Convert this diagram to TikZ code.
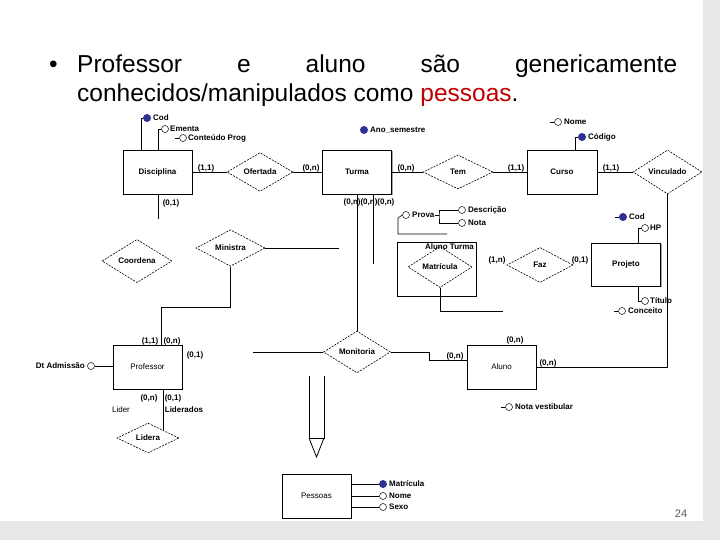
\documentclass[tikz,border=0pt]{standalone}
\usepackage{fontspec}
\setmainfont{Liberation Sans}
\usetikzlibrary{shapes.geometric,shadows}
\definecolor{attblue}{HTML}{2E3192}
\definecolor{slidered}{HTML}{C00000}
\definecolor{pagegray}{HTML}{595959}
\newcommand\erfont{\fontsize{8}{9}\selectfont\bfseries}
\newcommand\erfontr{\fontsize{8}{9}\selectfont}
\newcommand\cardfont{\fontsize{8}{9}\selectfont\bfseries}
\newcommand\slidefont{\fontsize{24.5}{29}\selectfont}
\begin{document}
\begin{tikzpicture}[x=1pt,y=-1pt,
  ent/.style={draw, line width=0.8pt, fill=white, minimum width=69pt, minimum height=44pt,
    inner sep=0pt, font=\erfont,
    drop shadow={shadow xshift=1.3pt, shadow yshift=-1.3pt, fill=black!50, opacity=0.7}},
  rel/.style={diamond, draw, dash pattern=on 2pt off 1.2pt, line width=0.6pt,
    inner sep=0pt, font=\erfont, fill=white},
  card/.style={font=\cardfont, inner sep=0pt},
  lab/.style={font=\erfont, inner sep=0pt, anchor=west},
  attf/.style={circle, fill=attblue, minimum size=8pt, inner sep=0pt},
  atto/.style={circle, draw, line width=0.5pt, minimum size=7pt, inner sep=0pt, fill=white},
  conn/.style={line width=0.8pt},
  thin/.style={line width=0.6pt}]
\useasboundingbox (0,0) rectangle (720,540);
\fill[gray!18] (0,0) rectangle (720,540);
\fill[white] (0,0) rectangle (703,521);

% slide text
\node[anchor=base west, inner sep=0pt, font=\slidefont] (bul) at (49,73) {•};
\node[anchor=base west, inner sep=0pt, font=\slidefont] (l1) at (77,73)
  {\makebox[600pt]{Professor\hfill e\hfill aluno\hfill são\hfill genericamente}};
\node[anchor=base west, inner sep=0pt, font=\slidefont] (l2) at (77,102)
  {conhecidos/manipulados como \textcolor{slidered}{pessoas}.};

% associative box first (behind)
\node[ent, minimum width=79pt, minimum height=54pt] (at) at (436.5,269) {};

% entities
\node[ent] (disc) at (157.5,172) {Disciplina};
\node[ent] (turma) at (357,172) {Turma};
\node[ent, minimum width=70pt] (curso) at (562,172) {Curso};
\node[ent, minimum height=43pt] (proj) at (626,264.5) {Projeto};
\node[ent, font=\erfontr] (prof) at (147.5,367) {Professor};
\node[ent, font=\erfontr] (aluno) at (501.5,367) {Aluno};
\node[ent, font=\erfontr] (pess) at (316.5,496) {Pessoas};

% relationships
\node[rel, minimum width=66pt, minimum height=36pt] (ofer) at (260,172) {Ofertada};
\node[rel, minimum width=70pt, minimum height=34pt] (tem) at (458,172) {Tem};
\node[rel, minimum width=69pt, minimum height=34pt] (vinc) at (667.5,172) {Vinculado};
\node[rel, minimum width=70pt, minimum height=33pt] (coord) at (137,261) {Coordena};
\node[rel, minimum width=69pt, minimum height=34pt] (mini) at (230.5,248) {Ministra};
\node[rel, fill=none, minimum width=64pt, minimum height=28pt] (matr) at (440,267) {Matrícula};
\node[rel, minimum width=66pt, minimum height=35pt] (faz) at (540,265) {Faz};
\node[rel, minimum width=62pt, minimum height=29pt] (lid) at (148,438) {Lidera};
\node[rel, minimum width=67pt, minimum height=33pt] (moni) at (357,352) {Monitoria};
\node[lab, anchor=east] (atl) at (474,247) {Aluno Turma};

% connectors
\draw[conn] (disc.east) -- (ofer.west);
\draw[conn] (ofer.east) -- (turma.west);
\draw[conn] (turma.east) -- (tem.west);
\draw[conn] (tem.east) -- (curso.west);
\draw[conn] (curso.east) -- (vinc.west);
\draw[conn] (vinc.south) |- (aluno.east);
\coordinate (dEnd) at (158,219);
\draw[conn] (disc.south -| dEnd) -- (dEnd);
\draw[conn] (turma.south) -- (moni.north);
\coordinate (tEnd) at (373,264);
\draw[conn] (turma.south -| tEnd) -- (tEnd);
\coordinate (mEnd) at (339,248);
\draw[conn] (mini.east) -- (mEnd);
\coordinate (mp) at (161,307);
\draw[conn] (mini.south) |- (mp) -- (mp |- prof.north);
\coordinate (pmEnd) at (253,352);
\draw[conn] (pmEnd) -- (moni.west);
\coordinate (ma) at (429,360);
\draw[conn] (moni.east) -| (ma) -- (ma -| aluno.west);
\draw[conn] (prof.south -| lid.north east) -- (lid.north east);
\coordinate (mtEnd) at (503,311);
\draw[conn] (matr.south) |- (mtEnd);

% Prova
\node[atto] (provac) at (406,215) {};
\node[lab] (prova) at (412,215) {Prova};
\coordinate (pv) at (447,234);
\coordinate (pvc) at (398,218);
\draw[thin] (pv) -| (pvc) -- (provac.west);
\coordinate (pb) at (439,215);
\draw[thin] (prova.east) -- (pb);
\node[atto] (desc) at (462,210) {};
\node[lab] (descl) at (468,210) {Descrição};
\node[atto] (nota) at (462,223) {};
\node[lab] (notal) at (468,223) {Nota};
\draw[thin] (desc.west) -| (pb) |- (nota.west);

% Disciplina attributes
\node[attf] (dcod) at (147,118) {};
\node[lab] (dcodl) at (153,118) {Cod};
\coordinate (k1) at (141,150);
\draw[thin] (k1) |- (dcod.west);
\node[atto] (dem) at (165,129) {};
\node[lab] (deml) at (170,129) {Ementa};
\coordinate (k2) at (158,150);
\draw[thin] (k2) |- (dem.west);
\node[atto] (dcp) at (183,138) {};
\node[lab] (dcpl) at (188,138) {Conteúdo Prog};
\draw[thin] (dcp.west) -- ++(-4,0);

% Turma attribute
\node[attf] (ano) at (364,130) {};
\node[lab] (anol) at (370,130) {Ano\_semestre};

% Curso attributes
\node[atto] (cnome) at (558,122) {};
\draw[thin] (cnome.west) -- ++(-4,0);
\node[lab] (cnomel) at (564,122) {Nome};
\node[attf] (ccod) at (582,137) {};
\node[lab] (ccodl) at (588,137) {Código};
\coordinate (k3) at (575,150);
\draw[thin] (k3) |- (ccod.west);

% Projeto attributes
\node[attf] (pcod) at (623,217) {};
\draw[thin] (pcod.west) -- ++(-4,0);
\node[lab] (pcodl) at (629,217) {Cod};
\node[atto] (php) at (645,228) {};
\node[lab] (phpl) at (650,228) {HP};
\coordinate (k4) at (638,243);
\draw[thin] (k4) |- (php.west);
\node[atto] (ptit) at (645,301) {};
\node[lab] (ptitl) at (650,301) {Título};
\coordinate (k5) at (638,286);
\draw[thin] (k5) |- (ptit.west);
\node[atto] (pcon) at (622,311) {};
\draw[thin] (pcon.west) -- ++(-4,0);
\node[lab] (pconl) at (628,311) {Conceito};

% Professor attribute
\node[atto] (dtad) at (91,366) {};
\node[lab, anchor=east] (dtadl) at (85,366) {Dt Admissão};
\draw[thin] (dtad.east) -- (prof.west |- dtad);

% Aluno attribute
\node[atto] (nv) at (509,407) {};
\draw[thin] (nv.west) -- ++(-4,0);
\node[lab] (nvl) at (515,407) {Nota vestibular};

% Pessoas attributes
\node[attf] (pmat) at (383,484) {};
\node[lab] (pmatl) at (389,484) {Matrícula};
\node[atto] (pnom) at (383,496) {};
\node[lab] (pnoml) at (389,496) {Nome};
\node[atto] (psex) at (383,507) {};
\node[lab] (psexl) at (389,507) {Sexo};
\draw[thin] (pess.east |- pmat) -- (pmat.west);
\draw[thin] (pess.east |- pnom) -- (pnom.west);
\draw[thin] (pess.east |- psex) -- (psex.west);

% cardinalities
\node[card] (c1) at (206,168) {(1,1)};
\node[card] (c2) at (171,203) {(0,1)};
\node[card] (c3) at (311,168) {(0,n)};
\node[card] (c4) at (406,168) {(0,n)};
\node[card] (c5) at (516,168) {(1,1)};
\node[card] (c6) at (611,168) {(1,1)};
\node[card] (c7) at (369,202) {(0,n)(0,n)(0,n)};
\node[card] (c8) at (497,260) {(1,n)};
\node[card] (c9) at (580,260) {(0,1)};
\node[card] (c10) at (150,341) {(1,1)};
\node[card] (c11) at (172,341) {(0,n)};
\node[card] (c12) at (195,355) {(0,1)};
\node[card] (c13) at (149,398) {(0,n)};
\node[card] (c14) at (173,398) {(0,1)};
\node[lab, anchor=center, font=\erfontr] (lider) at (121,410) {Lider};
\node[lab, anchor=center] (lidos) at (184,410) {Liderados};
\node[card] (c15) at (455,356) {(0,n)};
\node[card] (c16) at (515,340) {(0,n)};
\node[card] (c17) at (548,363) {(0,n)};

% generalization arrow
\coordinate (g1) at (309,376);
\coordinate (g2) at (324,376);
\coordinate (g3) at (309,438);
\coordinate (g4) at (324,438);
\coordinate (gt) at (316.5,457);
\draw[conn] (g1) -- (g3) -- (g4) -- (g2);
\draw[conn, line join=miter] (g3) -- (gt) -- (g4);

% page number
\node[font=\fontsize{11}{12}\selectfont, text=pagegray, inner sep=0pt] (pg) at (681,514) {24};
\end{tikzpicture}
\end{document}
